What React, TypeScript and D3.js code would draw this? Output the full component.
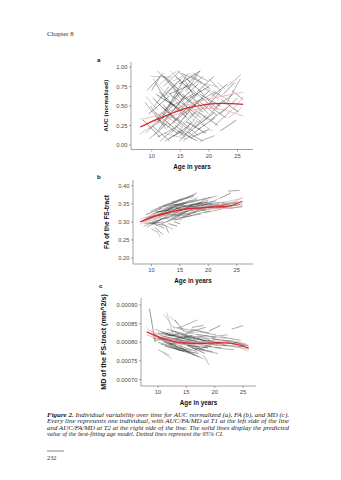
import React from 'react';
import * as d3 from 'd3';

type Seg = [number, number, number, number];

const xTicks = [10, 15, 20, 25];
const aucTicks = [0, 0.25, 0.5, 0.75, 1];
const faTicks = [0.2, 0.25, 0.3, 0.35, 0.4];
const mdTicks = [0.0007, 0.00075, 0.0008, 0.00085, 0.0009];

// [age T1, value T1, age T2, value T2]
const aucSegments: Seg[] = [
  [8.5, 0.32, 11.5, 0.1], [8.8, 0.55, 12, 0.25], [9, 0.15, 12.5, 0.45], [9.2, 0.7, 12, 0.92],
  [9.5, 0.4, 13, 0.62], [9.6, 0.08, 12.8, 0.28], [9.8, 0.88, 13.5, 0.87], [10, 0.25, 13.2, 0.05],
  [10.2, 0.6, 13.8, 0.35], [10.3, 0.48, 13, 0.75], [10.5, 0.12, 14, 0.4], [10.6, 0.8, 12.5, 0.58],
  [10.8, 0.35, 14.5, 0.15], [11, 0.95, 14.2, 0.7], [11, 0.55, 14.6, 0.82], [11.2, 0.2, 15, 0.55],
  [11.3, 0.68, 14.8, 0.45], [11.5, 0.05, 15.2, 0.3], [11.6, 0.42, 15.4, 0.22], [11.8, 0.9, 15.6, 0.6],
  [12, 0.3, 15.8, 0.62], [12, 0.75, 15, 0.95], [12.2, 0.15, 16, 0.08], [12.4, 0.58, 16.2, 0.4],
  [12.5, 0.45, 16, 0.88], [12.7, 0.22, 16.3, 0.48], [12.8, 0.85, 16.5, 0.55], [13, 0.08, 16.6, 0.25],
  [13, 0.65, 17, 0.78], [13.2, 0.38, 16.8, 0.18], [13.3, 0.95, 16.2, 0.72], [13.5, 0.5, 17.2, 0.65],
  [13.6, 0.28, 17.5, 0.52], [13.8, 0.72, 17.4, 0.35], [14, 0.12, 17.6, 0.42], [14, 0.6, 17.8, 0.9],
  [14.2, 0.88, 18, 0.62], [14.4, 0.35, 18.2, 0.12], [14.5, 0.55, 17.5, 0.3], [14.6, 0.18, 18, 0.05],
  [14.8, 0.78, 18.5, 0.95], [15, 0.45, 18.6, 0.7], [15, 0.25, 18.4, 0.48], [15.2, 0.92, 18.8, 0.8],
  [15.4, 0.65, 19, 0.42], [15.5, 0.05, 18.6, 0.22], [15.6, 0.4, 19.2, 0.6], [15.8, 0.82, 17.6, 0.6],
  [16, 0.3, 19.5, 0.15], [16, 0.7, 19, 0.88], [16.2, 0.52, 19.8, 0.32], [16.5, 0.15, 19.5, 0.38],
  [16.6, 0.6, 20, 0.75], [16.8, 0.9, 20.2, 0.72], [17, 0.38, 20.5, 0.55], [17.2, 0.7, 20.8, 0.48],
  [17.5, 0.22, 21, 0.42], [17.8, 0.55, 21.2, 0.68], [18, 0.8, 21.5, 0.75], [18.2, 0.42, 21.6, 0.25],
  [18.5, 0.65, 22, 0.5], [19, 0.3, 22.2, 0.55], [19.5, 0.72, 22.5, 0.62], [20, 0.5, 23, 0.35],
  [20.5, 0.62, 23.2, 0.78], [21, 0.25, 24, 0.45], [21.5, 0.8, 22.8, 0.72], [22, 0.4, 25, 0.6],
  [22.5, 0.65, 24.5, 0.8], [23, 0.52, 25.5, 0.85], [23.5, 0.35, 25.8, 0.48], [24, 0.7, 26, 0.58],
  [22, 0.18, 24.8, 0.32], [20, 0.85, 22, 0.7], [9, 0.62, 11, 0.45], [10, 0.7, 11.5, 0.88],
  [17, 0.1, 20, 0.2], [18.5, 0.05, 21, 0.12], [13, 0.48, 15.5, 0.7], [12, 0.52, 14.2, 0.32],
  [11, 0.3, 13.6, 0.5], [14.5, 0.95, 16.5, 0.82], [16, 0.42, 18, 0.58], [15, 0.12, 17, 0.3],
  [9.5, 0.2, 12.5, 0.38], [9.8, 0.5, 12.6, 0.2], [10.2, 0.85, 13, 0.62], [10.5, 0.3, 13.5, 0.55],
  [10.8, 0.65, 14, 0.5], [11, 0.1, 14, 0.22], [11.4, 0.78, 14.4, 0.95], [11.7, 0.35, 14.8, 0.68],
  [12.1, 0.62, 15.2, 0.85], [12.3, 0.05, 15.4, 0.18], [12.6, 0.7, 15.5, 0.45], [12.9, 0.28, 15.9, 0.1],
  [13.1, 0.55, 16.1, 0.35], [13.4, 0.15, 16.4, 0.42], [13.7, 0.82, 16.7, 0.92], [13.9, 0.42, 16.9, 0.6],
  [14.1, 0.25, 17.1, 0.08], [14.3, 0.68, 17.3, 0.52], [14.7, 0.48, 17.7, 0.22], [14.9, 0.05, 17.9, 0.3],
  [15.1, 0.58, 18.1, 0.78], [15.3, 0.32, 18.3, 0.58], [15.7, 0.72, 18.7, 0.48], [15.9, 0.18, 18.9, 0.05],
  [16.1, 0.85, 19.1, 0.65], [16.3, 0.45, 19.3, 0.25], [16.7, 0.25, 19.7, 0.55], [16.9, 0.62, 19.9, 0.4],
  [17.1, 0.48, 20.1, 0.7], [17.3, 0.92, 19.8, 0.82], [17.6, 0.32, 20.6, 0.18], [17.9, 0.68, 20.9, 0.88],
  [18.1, 0.2, 21.1, 0.35], [18.4, 0.55, 21.4, 0.38], [18.8, 0.75, 21.8, 0.58], [19.2, 0.45, 22.2, 0.7],
  [19.6, 0.6, 21.6, 0.45], [20.2, 0.32, 23.2, 0.48], [20.8, 0.7, 23.8, 0.55], [21.2, 0.48, 24.2, 0.65],
  [22.2, 0.58, 25.2, 0.42], [23.2, 0.75, 25.6, 0.9], [24.2, 0.45, 26, 0.62], [10.6, 0.42, 13.4, 0.25],
  [11.9, 0.48, 14.9, 0.3], [13.3, 0.65, 16.3, 0.48], [14.6, 0.38, 17.6, 0.55], [15.6, 0.52, 18.6, 0.35],
  [12.2, 0.88, 14.6, 0.72], [16.4, 0.72, 18.4, 0.95],
];

const faSegments: Seg[] = [
  [8.5, 0.3, 11, 0.318], [8.6, 0.288, 11.5, 0.305], [8.8, 0.31, 12, 0.325], [9, 0.295, 12.2, 0.3],
  [9, 0.32, 11.8, 0.338], [9.2, 0.285, 12, 0.31], [9.4, 0.305, 12.8, 0.33], [9.5, 0.315, 13, 0.322],
  [9.6, 0.298, 12.4, 0.29], [9.8, 0.33, 12.8, 0.345], [10, 0.31, 13.2, 0.335], [10, 0.292, 13, 0.318],
  [10.2, 0.322, 13.6, 0.34], [10.4, 0.305, 13.4, 0.325], [10.5, 0.335, 14, 0.35], [10.6, 0.285, 12, 0.265],
  [10.8, 0.315, 14.2, 0.33], [11, 0.325, 14.4, 0.345], [11, 0.3, 13.8, 0.28], [11.2, 0.34, 14.6, 0.355],
  [11.4, 0.318, 14.8, 0.338], [11.5, 0.308, 15, 0.32], [11.6, 0.33, 15.2, 0.342], [11.8, 0.295, 15, 0.315],
  [12, 0.345, 15.4, 0.36], [12, 0.32, 15.6, 0.335], [12.2, 0.31, 15.4, 0.305], [12.4, 0.338, 15.8, 0.35],
  [12.5, 0.325, 16, 0.345], [12.6, 0.3, 16, 0.325], [12.8, 0.35, 16.2, 0.365], [13, 0.315, 16.5, 0.33],
  [13, 0.335, 16.6, 0.355], [13.2, 0.328, 16.8, 0.32], [13.4, 0.342, 17, 0.36], [13.5, 0.31, 17.2, 0.335],
  [13.6, 0.355, 17.4, 0.37], [13.8, 0.322, 17.4, 0.345], [14, 0.338, 17.6, 0.35], [14, 0.305, 17.2, 0.318],
  [14.2, 0.33, 17.8, 0.34], [14.4, 0.348, 18, 0.362], [14.5, 0.318, 18.2, 0.33], [14.6, 0.36, 17.6, 0.375],
  [14.8, 0.335, 18.4, 0.345], [15, 0.325, 18.6, 0.338], [15, 0.345, 18.2, 0.368], [15.2, 0.312, 18.8, 0.322],
  [15.4, 0.34, 19, 0.355], [15.6, 0.328, 19.2, 0.34], [15.8, 0.35, 19.4, 0.362], [16, 0.32, 19.6, 0.335],
  [16.2, 0.338, 19.8, 0.348], [16.4, 0.345, 20, 0.36], [16.6, 0.325, 20.2, 0.34], [16.8, 0.355, 20.4, 0.368],
  [17, 0.332, 20.6, 0.342], [17.2, 0.342, 20.8, 0.352], [17.5, 0.328, 21, 0.338], [17.8, 0.348, 21.4, 0.358],
  [18, 0.335, 21.6, 0.345], [18.5, 0.345, 22, 0.35], [19, 0.33, 22.4, 0.342], [19.5, 0.35, 23, 0.355],
  [20, 0.338, 23.4, 0.348], [20.5, 0.342, 24, 0.35], [21, 0.335, 24.6, 0.345], [21.5, 0.345, 25, 0.352],
  [22, 0.365, 24, 0.38], [22.5, 0.34, 25.6, 0.348], [23, 0.355, 26, 0.365], [23.5, 0.385, 25.5, 0.387],
  [24, 0.338, 26, 0.342], [10, 0.28, 11, 0.272], [11, 0.275, 11.5, 0.258], [12.5, 0.29, 13, 0.27],
  [14, 0.3, 15, 0.295], [19, 0.36, 21.5, 0.372], [20, 0.352, 22, 0.365], [16, 0.365, 18, 0.38],
  [13, 0.295, 14.5, 0.288],
  [9.1, 0.305, 12.1, 0.328], [9.7, 0.318, 12.7, 0.335], [10.1, 0.3, 13.1, 0.312], [10.7, 0.328, 13.7, 0.332],
  [11.1, 0.312, 14.1, 0.335], [11.3, 0.335, 14.3, 0.34], [11.7, 0.322, 14.7, 0.348], [12.1, 0.33, 15.1, 0.338],
  [12.3, 0.315, 15.3, 0.342], [12.7, 0.342, 15.7, 0.345], [12.9, 0.32, 15.9, 0.318], [13.1, 0.345, 16.1, 0.352],
  [13.3, 0.318, 16.3, 0.34], [13.7, 0.332, 16.7, 0.338], [13.9, 0.348, 16.9, 0.342], [14.1, 0.325, 17.1, 0.345],
  [14.3, 0.34, 17.3, 0.335], [14.7, 0.345, 17.7, 0.358], [14.9, 0.31, 17.9, 0.328], [15.3, 0.335, 18.3, 0.342],
  [15.7, 0.342, 18.7, 0.35], [16.1, 0.33, 19.1, 0.348], [16.5, 0.338, 19.5, 0.332], [16.9, 0.345, 19.9, 0.355],
  [17.3, 0.32, 20.3, 0.33], [17.7, 0.338, 20.7, 0.345], [18.2, 0.35, 21.2, 0.345], [18.8, 0.34, 21.8, 0.348],
  [19.3, 0.325, 22.3, 0.335], [20.3, 0.345, 23.3, 0.34], [21.3, 0.34, 24.3, 0.338], [22.3, 0.35, 25.3, 0.355],
  [24.5, 0.345, 26, 0.35], [8.7, 0.295, 10.8, 0.31], [10.3, 0.295, 12.3, 0.282],
];

const mdSegments: Seg[] = [
  [8.5, 0.00089, 9.5, 0.0008], [8.8, 0.00083, 11, 0.000805], [9, 0.000815, 12, 0.0008], [9.2, 0.000822, 12.4, 0.00079],
  [9.4, 0.000805, 12, 0.00081], [9.5, 0.000835, 12.6, 0.000815], [9.8, 0.000812, 13, 0.000795], [10, 0.0008, 13.4, 0.000785],
  [10, 0.000825, 13, 0.000818], [10.2, 0.000808, 13.6, 0.000798], [10.4, 0.000818, 13.2, 0.00083], [10.5, 0.000795, 13.8, 0.00078],
  [10.6, 0.000828, 14, 0.000812], [10.8, 0.000802, 14.2, 0.00079], [11, 0.000875, 13, 0.000835], [11, 0.000815, 14.4, 0.000805],
  [11.2, 0.00079, 14.6, 0.000775], [11.4, 0.000822, 14.8, 0.000808], [11.5, 0.000805, 15, 0.000795], [11.6, 0.000835, 15.2, 0.00082],
  [11.8, 0.000798, 15, 0.00078], [12, 0.000812, 15.4, 0.0008], [12, 0.00087, 13.5, 0.00085], [12.2, 0.000788, 15.6, 0.00077],
  [12.4, 0.00082, 15.8, 0.00081], [12.5, 0.0008, 16, 0.00079], [12.6, 0.000842, 16, 0.000825], [12.8, 0.000808, 16.2, 0.000798],
  [13, 0.00079, 16.4, 0.000765], [13, 0.000825, 16.6, 0.000812], [13.2, 0.000805, 16.8, 0.000792], [13.4, 0.000815, 17, 0.0008],
  [13.5, 0.00078, 17.2, 0.00077], [13.6, 0.000838, 17, 0.00086], [13.8, 0.000798, 17.4, 0.000785], [14, 0.00082, 17.6, 0.000808],
  [14, 0.000785, 17.2, 0.00076], [14.2, 0.000805, 17.8, 0.000795], [14.4, 0.00083, 18, 0.000815], [14.5, 0.000795, 18.2, 0.00078],
  [14.6, 0.000815, 18.4, 0.000805], [14.8, 0.00078, 18, 0.000755], [15, 0.000808, 18.6, 0.000798], [15, 0.000825, 18.4, 0.00084],
  [15.2, 0.000792, 18.8, 0.000785], [15.4, 0.000818, 19, 0.000808], [15.6, 0.0008, 19.2, 0.00079], [15.8, 0.000835, 19, 0.000825],
  [16, 0.000785, 19.6, 0.000775], [16.2, 0.00081, 19.8, 0.0008], [16.5, 0.000795, 20, 0.000805], [16.8, 0.000822, 20.2, 0.000812],
  [17, 0.0008, 20.5, 0.000792], [17.2, 0.00078, 20.6, 0.00077], [17.5, 0.000815, 21, 0.000805], [17.8, 0.00079, 21.2, 0.000785],
  [18, 0.000805, 21.5, 0.000798], [18, 0.000765, 19, 0.00074], [18.5, 0.000818, 22, 0.00081], [19, 0.000795, 22.4, 0.00079],
  [19.5, 0.00081, 23, 0.000802], [20, 0.000785, 23.4, 0.00078], [20.5, 0.0008, 24, 0.000795], [21, 0.000815, 24.6, 0.000805],
  [21.5, 0.000792, 25, 0.000788], [22, 0.000805, 25.5, 0.000795], [22.5, 0.00079, 26, 0.000782], [23, 0.000835, 25, 0.000845],
  [23.5, 0.0008, 26, 0.00079], [10, 0.00078, 12, 0.000765], [11, 0.00077, 12.5, 0.000755], [16, 0.00084, 18, 0.000845],
  [19, 0.00083, 21, 0.000845],
  [9.1, 0.00081, 12.1, 0.000812], [9.7, 0.000825, 12.7, 0.000805], [10.1, 0.000812, 13.1, 0.00079], [10.7, 0.000815, 13.7, 0.000822],
  [11.1, 0.0008, 14.1, 0.000782], [11.3, 0.000828, 14.3, 0.000815], [11.7, 0.00081, 14.7, 0.0008], [12.1, 0.000795, 15.1, 0.0008],
  [12.3, 0.00083, 15.3, 0.000818], [12.7, 0.000815, 15.7, 0.000798], [12.9, 0.000785, 15.9, 0.000778], [13.1, 0.00081, 16.1, 0.000818],
  [13.3, 0.00084, 16.3, 0.00083], [13.7, 0.0008, 16.7, 0.000808], [13.9, 0.00079, 16.9, 0.000775], [14.1, 0.000812, 17.1, 0.000802],
  [14.3, 0.000798, 17.3, 0.000788], [14.7, 0.000822, 17.7, 0.00083], [14.9, 0.000805, 17.9, 0.000792], [15.3, 0.00079, 18.3, 0.00077],
  [15.7, 0.000812, 18.7, 0.000818], [16.1, 0.000798, 19.1, 0.000808], [16.5, 0.00078, 19.5, 0.00079], [16.9, 0.00081, 19.9, 0.000795],
  [17.3, 0.000828, 20.3, 0.00082], [17.7, 0.0008, 20.7, 0.000808], [18.2, 0.00079, 21.2, 0.0008], [18.8, 0.000805, 21.8, 0.000792],
  [19.3, 0.000815, 22.3, 0.00082], [20.3, 0.000795, 23.3, 0.000805], [21.3, 0.000805, 24.3, 0.000798], [22.3, 0.000798, 25.3, 0.00079],
  [24.5, 0.000795, 26, 0.000785], [11.5, 0.00088, 12.5, 0.00083], [13, 0.00086, 14.5, 0.00083],
];

const fitAges = [8, 10, 12, 14, 16, 18, 20, 22, 24, 26];
const aucFit = [0.23, 0.3, 0.36, 0.42, 0.47, 0.5, 0.525, 0.535, 0.53, 0.52];
const aucUpper = [0.33, 0.36, 0.41, 0.46, 0.51, 0.55, 0.59, 0.62, 0.65, 0.68];
const aucLower = [0.14, 0.24, 0.31, 0.38, 0.43, 0.46, 0.47, 0.46, 0.42, 0.37];
const faFit = [0.3, 0.313, 0.322, 0.33, 0.335, 0.338, 0.34, 0.342, 0.345, 0.357];
const faUpper = [0.307, 0.318, 0.326, 0.333, 0.338, 0.341, 0.344, 0.347, 0.352, 0.368];
const faLower = [0.293, 0.308, 0.318, 0.326, 0.331, 0.335, 0.336, 0.337, 0.338, 0.346];
const mdFit = [0.000828, 0.000815, 0.000805, 0.000799, 0.000797, 0.000797, 0.000798, 0.000798, 0.000794, 0.000784];
const mdUpper = [0.000836, 0.000821, 0.00081, 0.000803, 0.0008, 0.000801, 0.000802, 0.000803, 0.000801, 0.000792];
const mdLower = [0.00082, 0.000809, 0.0008, 0.000795, 0.000793, 0.000793, 0.000794, 0.000793, 0.000787, 0.000776];

const captionLines = [
  'Individual variability over time for AUC normalized (a), FA (b), and MD (c).',
  'Every line represents one individual, with AUC/FA/MD at T1 at the left side of the line',
  'and AUC/FA/MD at T2 at the right side of the line. The solid lines display the predicted',
  'value of the best-fitting age model. Dotted lines represent the 95% CI.',
];

const SANS = 'Liberation Sans, Arial, sans-serif';
const SERIF = 'Liberation Serif, DejaVu Serif, serif';
const SHADES = ['#1c1c1c', '#5a5a5a', '#8c8c8c', '#3c3c3c'];

type PanelProps = {
  label: string;
  yTitle: string;
  yTitleSize: number;
  segs: Seg[];
  fit: number[];
  upper: number[];
  lower: number[];
  yTicks: number[];
  fmt: (v: number) => string;
  xr: [number, number];
  yd: [number, number];
  yr: [number, number];
  axisX: number;
  axisY: number;
  top: number;
  right: number;
  titleX: number;
  labelPos: [number, number];
};

function Panel(p: PanelProps) {
  const x = d3.scaleLinear().domain([10, 25]).range(p.xr);
  const y = d3.scaleLinear().domain(p.yd).range(p.yr);
  const line = d3
    .line<number>()
    .x((_, i) => x(fitAges[i]))
    .y((d) => y(d))
    .curve(d3.curveCatmullRom);
  const midY = (p.top + p.axisY) / 2;
  const midX = (p.axisX + p.right) / 2;
  return (
    <g>
      <text x={p.labelPos[0]} y={p.labelPos[1]} fontFamily={SANS} fontWeight="bold" fontSize={6.2} fill="#111">
        {p.label}
      </text>
      {p.segs.map((s, i) => (
        <line
          key={i}
          x1={x(s[0])}
          y1={y(s[1])}
          x2={x(s[2])}
          y2={y(s[3])}
          stroke={SHADES[i % 4]}
          strokeOpacity={0.75}
          strokeWidth={0.6}
        />
      ))}
      <path d={line(p.upper) || ''} fill="none" stroke="#eea4a4" strokeWidth={0.75} />
      <path d={line(p.lower) || ''} fill="none" stroke="#eea4a4" strokeWidth={0.75} />
      <path d={line(p.fit) || ''} fill="none" stroke="#d9272e" strokeWidth={1.25} />
      <line x1={p.axisX} y1={p.top} x2={p.axisX} y2={p.axisY} stroke="#666" strokeWidth={0.6} />
      <line x1={p.axisX} y1={p.axisY} x2={p.right} y2={p.axisY} stroke="#666" strokeWidth={0.6} />
      {p.yTicks.map((t) => (
        <g key={t}>
          <line x1={p.axisX - 2} x2={p.axisX} y1={y(t)} y2={y(t)} stroke="#666" strokeWidth={0.6} />
          <text
            x={p.axisX - 3.5}
            y={y(t)}
            dy="0.35em"
            textAnchor="end"
            fontFamily={SANS}
            fontSize={5.8}
            fill="#4a4a4a"
          >
            {p.fmt(t)}
          </text>
        </g>
      ))}
      {xTicks.map((t) => (
        <g key={t}>
          <line x1={x(t)} x2={x(t)} y1={p.axisY} y2={p.axisY + 2} stroke="#666" strokeWidth={0.6} />
          <text x={x(t)} y={p.axisY + 8} textAnchor="middle" fontFamily={SANS} fontSize={5.8} fill="#4a4a4a">
            {t}
          </text>
        </g>
      ))}
      <text
        x={midX}
        y={p.axisY + 19}
        textAnchor="middle"
        fontFamily={SANS}
        fontWeight="bold"
        fontSize={6.3}
        fill="#111"
      >
        Age in years
      </text>
      <text
        transform={`translate(${p.titleX},${midY}) rotate(-90)`}
        textAnchor="middle"
        fontFamily={SANS}
        fontWeight="bold"
        fontSize={p.yTitleSize}
        fill="#111"
      >
        {p.yTitle}
      </text>
    </g>
  );
}

export default function App() {
  const f2 = d3.format('.2f');
  const f5 = d3.format('.5f');
  return (
    <svg
      width={341}
      height={480}
      viewBox="0 0 341 480"
      style={{ position: 'absolute', left: 0, top: 0, background: '#fff' }}
    >
      <rect width={341} height={480} fill="#fff" />
      <text x={47} y={36} fontFamily={SERIF} fontSize={6.8} fill="#333">
        Chapter 8
      </text>
      <Panel
        label="a"
        yTitle="AUC (normalized)"
        yTitleSize={6.2}
        segs={aucSegments}
        fit={aucFit}
        upper={aucUpper}
        lower={aucLower}
        yTicks={aucTicks}
        fmt={f2}
        xr={[151.7, 237.5]}
        yd={[0, 1]}
        yr={[145, 67]}
        axisX={131}
        axisY={149.5}
        top={62}
        right={253}
        titleX={108}
        labelPos={[97, 62]}
      />
      <Panel
        label="b"
        yTitle="FA of the FS-tract"
        yTitleSize={6.5}
        segs={faSegments}
        fit={faFit}
        upper={faUpper}
        lower={faLower}
        yTicks={faTicks}
        fmt={f2}
        xr={[151.5, 236.7]}
        yd={[0.2, 0.4]}
        yr={[258, 185.7]}
        axisX={133}
        axisY={264}
        top={180}
        right={253}
        titleX={109}
        labelPos={[97, 179]}
      />
      <Panel
        label="c"
        yTitle="MD of the FS-tract (mm^2/s)"
        yTitleSize={7.2}
        segs={mdSegments}
        fit={mdFit}
        upper={mdUpper}
        lower={mdLower}
        yTicks={mdTicks}
        fmt={f5}
        xr={[158, 243]}
        yd={[0.0007, 0.0009]}
        yr={[379.5, 305]}
        axisX={141}
        axisY={386}
        top={298}
        right={256}
        titleX={106}
        labelPos={[99, 288]}
      />
      <g fontFamily={SERIF} fontStyle="italic" fontSize={6.3} fill="#222">
        {captionLines.map((l, i) => (
          <text
            key={i}
            x={47}
            y={417 + i * 6.3}
            textLength={i < 3 ? 242 : undefined}
            lengthAdjust="spacingAndGlyphs"
          >
            {i === 0 ? (
              <>
                <tspan fontWeight="bold">Figure 2.</tspan> {l}
              </>
            ) : (
              l
            )}
          </text>
        ))}
      </g>
      <line x1={47} x2={64} y1={451} y2={451} stroke="#333" strokeWidth={0.6} />
      <text x={47} y={460} fontFamily={SERIF} fontSize={6.3} fill="#333">
        232
      </text>
    </svg>
  );
}
